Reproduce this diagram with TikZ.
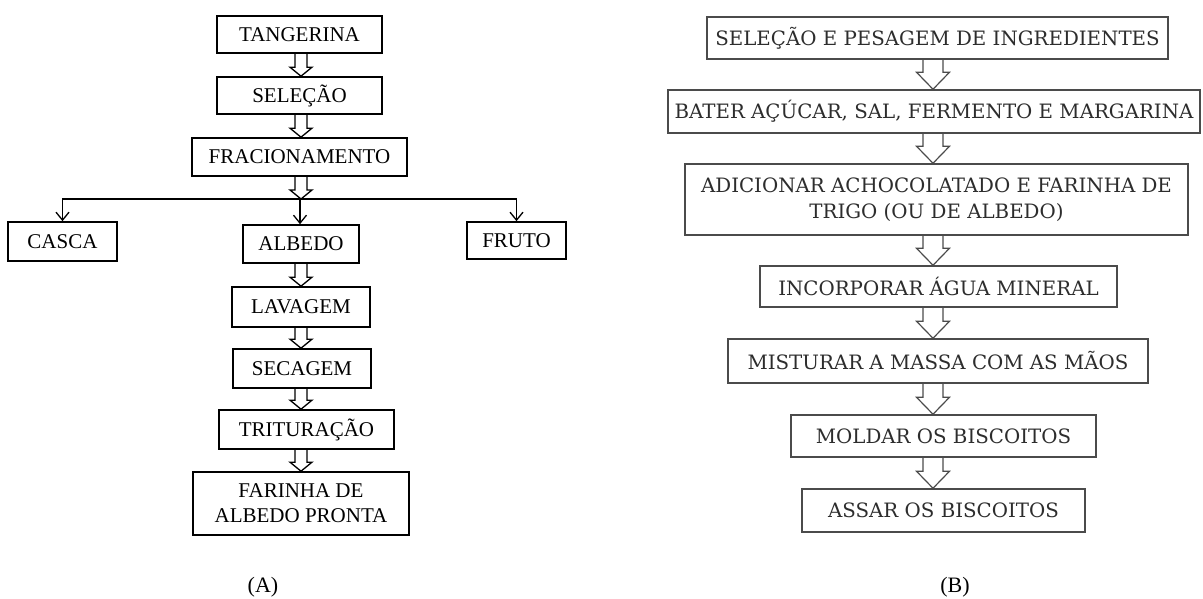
\documentclass[tikz,border=0pt]{standalone}
\usepackage{fontspec}
\setmainfont{Liberation Serif}
\newfontfamily\slabfont{DejaVu Serif}
\usepackage{tikz}
\usetikzlibrary{arrows.meta, positioning, calc}
\definecolor{edgegray}{RGB}{75,75,75}
\definecolor{inkgray}{RGB}{45,45,45}

% hollow block arrow: style, from, to, shaft half width, head half width, head length
\newcommand{\fatarrow}[6]{%
  \draw[#1] let \p1=#2, \p2=#3 in
    (\x1-#4,\y1) -- (\x1-#4,\y2+#6) -- (\x1-#5,\y2+#6) -- (\x1,\y2)
    -- (\x1+#5,\y2+#6) -- (\x1+#4,\y2+#6) -- (\x1+#4,\y1);}
\newcommand{\arrA}[2]{\fatarrow{flowA}{#1}{#2}{6pt}{11pt}{9pt}}
\newcommand{\arrB}[2]{\fatarrow{flowB}{#1}{#2}{10pt}{16.5pt}{17pt}}

\begin{document}
\begin{tikzpicture}[x=1pt, y=-1pt,
  boxA/.style={draw, line width=1.6pt, inner sep=0pt, align=center,
               font=\fontsize{21}{25}\selectfont},
  boxB/.style={draw=edgegray, line width=1.5pt, inner sep=0pt, align=center,
               text=inkgray, font=\slabfont\fontsize{19.8}{26}\selectfont},
  flowA/.style={draw, line width=1.3pt, line join=miter},
  flowB/.style={draw=edgegray, line width=1.2pt, line join=miter},
  branch/.style={draw, line width=1.3pt, -{Straight Barb[length=8pt, width=13pt]}},
  caption/.style={font=\fontsize{22}{26}\selectfont},
]
  \useasboundingbox (0,0) rectangle (1203,599);
  \coordinate (axisA) at (301,0);
  \coordinate (axisB) at (933,0);

  % (A) albedo flour
  \node[boxA, minimum width=165, minimum height=37] (tang) at (299.5,34.5) {TANGERINA};
  \node[boxA, minimum width=165, minimum height=37] (sel) at (299.5,95.5) {SELEÇÃO};
  \node[boxA, minimum width=215, minimum height=38] (frac) at (299.5,157) {FRACIONAMENTO};
  \coordinate (split) at (300,199);
  \node[boxA, minimum width=109, minimum height=39] (casca) at (62.5,241.5) {CASCA};
  \node[boxA, minimum width=116, minimum height=38] (albedo) at (301,244) {ALBEDO};
  \node[boxA, minimum width=99, minimum height=37] (fruto) at (516.5,240.5) {FRUTO};
  \node[boxA, minimum width=138, minimum height=40] (lav) at (301,307) {LAVAGEM};
  \node[boxA, minimum width=138, minimum height=39] (sec) at (302,368.5) {SECAGEM};
  \node[boxA, minimum width=175, minimum height=39] (trit) at (306.5,429.5) {TRITURAÇÃO};
  \node[boxA, minimum width=216, minimum height=63] (farinha) at (301,503.5) {FARINHA DE\\ALBEDO PRONTA};
  \node[caption] (capA) at (263,587) {(A)};

  \foreach \a/\b in {tang/sel, sel/frac, albedo/lav, lav/sec, sec/trit, trit/farinha}
    \arrA{(\a.south -| axisA)}{(\b.north -| axisA)};
  \arrA{(frac.south -| axisA)}{(split)}
  \draw[branch] (split) -| (casca.north);
  \draw[branch] (split) -| (fruto.north);
  \draw[branch] (split) -- (split |- albedo.north);

  % (B) biscuits
  \node[boxB, minimum width=461, minimum height=42] (r1) at (937.5,38) {SELEÇÃO E PESAGEM DE INGREDIENTES};
  \node[boxB, minimum width=532, minimum height=43] (r2) at (934,111.5) {BATER AÇÚCAR, SAL, FERMENTO E MARGARINA};
  \node[boxB, minimum width=503, minimum height=71] (r3) at (936.5,199.5) {ADICIONAR ACHOCOLATADO E FARINHA DE\\TRIGO (OU DE ALBEDO)};
  \node[boxB, minimum width=357, minimum height=41] (r4) at (938.5,286.5) {INCORPORAR ÁGUA MINERAL};
  \node[boxB, minimum width=420, minimum height=44] (r5) at (938,361) {MISTURAR A MASSA COM AS MÃOS};
  \node[boxB, minimum width=305, minimum height=42] (r6) at (943.5,436) {MOLDAR OS BISCOITOS};
  \node[boxB, minimum width=283, minimum height=43] (r7) at (943.5,510.5) {ASSAR OS BISCOITOS};
  \node[caption] (capB) at (955,587) {(B)};

  \foreach \a/\b in {r1/r2, r2/r3, r3/r4, r4/r5, r5/r6, r6/r7}
    \arrB{(\a.south -| axisB)}{(\b.north -| axisB)};
\end{tikzpicture}
\end{document}
